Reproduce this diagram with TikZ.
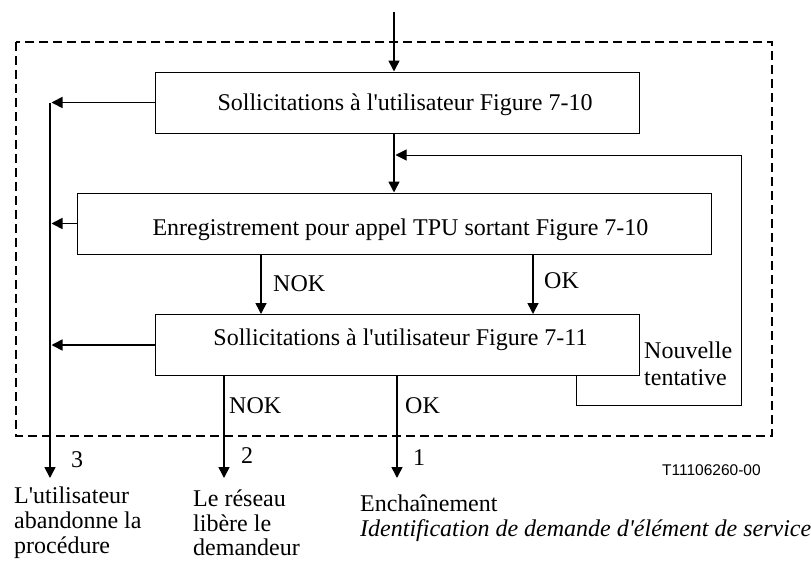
\documentclass[tikz,border=0pt]{standalone}
\usepackage{fontspec}
\setmainfont{Liberation Serif}
\newfontfamily\labelsans{Liberation Sans}
\usetikzlibrary{arrows.meta}
% straight apostrophe as printed in the chart
\newcommand\sq{\textquotesingle}
\begin{document}
\begin{tikzpicture}[x=1pt,y=-1pt,
  every node/.style={inner sep=0pt, font=\fontsize{24}{25}\selectfont},
  box/.style={draw, line width=1pt, minimum width=484pt, minimum height=61pt,
              text height=20pt, text depth=5pt},
  flow/.style={line width=1.6pt, -{Triangle[length=11pt,width=11pt]}},
  loopline/.style={line width=1pt, -{Triangle[length=11pt,width=11pt]}},
  frame/.style={dash pattern=on 9pt off 5pt, line width=1.6pt},
  lbl/.style={anchor=base west},
  outtext/.style={anchor=north west, align=left},
]
\useasboundingbox (0,0) rectangle (811,560);

% dashed boundary of the procedure
\draw[frame] (16,42) rectangle (772,436);

% process boxes
\node[box] (b1) at (397,102.5)
  {\hspace*{16pt}Sollicitations à l\sq utilisateur Figure 7-10};
\node[box, minimum width=634pt, text height=28pt] (b2) at (394,223.5)
  {\hspace*{13pt}Enregistrement pour appel TPU sortant Figure 7-10};
\node[box, text height=11pt, text depth=11pt] (b3) at (397,345)
  {\hspace*{7pt}Sollicitations à l\sq utilisateur Figure 7-11};

% reference columns
\coordinate (in)   at (394,12);
\coordinate (xnok) at (261,0);
\coordinate (xok)  at (533,0);
\coordinate (x2)   at (224,0);
\coordinate (x1)   at (397,0);
\coordinate (bustop) at (50,103);
\coordinate (busend) at (50,478);
\coordinate (lp1) at (576,405);
\coordinate (lp2) at (741,405);
\coordinate (lp3) at (741,155);

% main flow
\draw[flow] (in) -- (in |- b1.north);
\draw[flow] (b1.south -| in) -- (b2.north -| in);
\draw[flow] (b2.south -| xnok) -- (b3.north -| xnok);
\draw[flow] (b2.south -| xok) -- (b3.north -| xok);
\node[lbl] (nok1) at (273,291) {NOK};
\node[lbl] (ok1)  at (544,288) {OK};

% abandon bus on the left
\draw[flow] (bustop) -- (busend);
\draw[flow, shorten >=1.5pt] (b1.west) -- (b1.west -| bustop);
\draw[flow, shorten >=1.5pt] (b2.west) -- (b2.west -| bustop);
\draw[flow, shorten >=1.5pt] (b3.west) -- (b3.west -| bustop);

% exits from the last box
\draw[flow] (b3.south -| x2) -- (x2 |- busend);
\draw[flow] (b3.south -| x1) -- (x1 |- busend);
\node[lbl] (nok2) at (229,413) {NOK};
\node[lbl] (ok2)  at (405,413) {OK};

% retry loop
\draw[loopline, shorten >=1.5pt] (b3.south -| lp1) -- (lp1) -- (lp2) -- (lp3) -- (lp3 -| in);
\node[outtext, font=\fontsize{24}{27}\selectfont] (retry) at (644,341.5)
  {Nouvelle\\tentative};

% exit numbers
\node[lbl] (n3) at (71,467) {3};
\node[lbl] (n2) at (241,463) {2};
\node[lbl] (n1) at (413,465) {1};

% outcomes
\node[outtext] (t3) at (14,486.5) {L\sq utilisateur\\abandonne la\\procédure};
\node[outtext, font=\fontsize{24}{24.5}\selectfont] (t2) at (193,490)
  {Le réseau\\libère le\\demandeur};
\node[outtext] (t1) at (360,494.5)
  {Enchaînement\\\textit{Identification de demande d\sq élément de service}};

\node[lbl, font=\labelsans\fontsize{15.5}{18}\selectfont] (code) at (662,475) {T11106260-00};
\end{tikzpicture}
\end{document}
